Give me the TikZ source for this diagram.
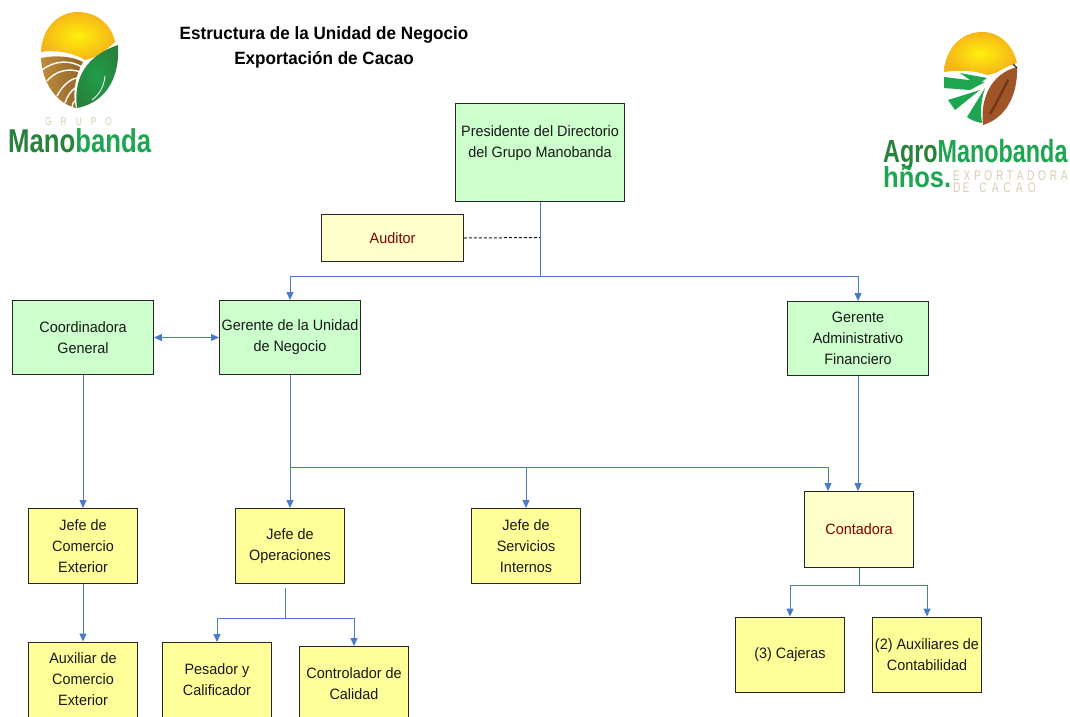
\documentclass[tikz,border=0pt]{standalone}
\usepackage{fontspec}
\setmainfont[FakeStretch=0.96]{Liberation Sans}
\newfontfamily\logofont[FakeStretch=0.78]{Liberation Sans}
\newfontfamily\agrofont[FakeStretch=0.73]{Liberation Sans}
\newfontfamily\hnosfont[FakeStretch=0.88]{Liberation Sans}
\usetikzlibrary{arrows.meta}

\definecolor{boxgreen}{RGB}{204,255,204}
\definecolor{boxyellow}{RGB}{255,255,153}
\definecolor{paleyellow}{RGB}{255,255,204}
\definecolor{linkblue}{RGB}{74,123,201}
\definecolor{darkred}{RGB}{128,0,0}
\definecolor{logogreen}{RGB}{40,130,60}
\definecolor{logolime}{RGB}{30,165,80}
\definecolor{logotan}{RGB}{215,205,175}
\definecolor{sunyellow}{RGB}{255,240,10}
\definecolor{sunamber}{RGB}{245,180,25}
\definecolor{fieldgold}{RGB}{190,140,60}
\definecolor{fielddark}{RGB}{145,100,40}
\definecolor{podbrown}{RGB}{160,85,40}
\definecolor{poddark}{RGB}{115,55,25}

\tikzset{
  orgbox/.style={draw=black!85,line width=0.9pt,align=center,inner sep=0pt,
    font=\fontsize{15}{21}\selectfont,text=black!90},
  greenbox/.style={orgbox,fill=boxgreen,minimum width=141,minimum height=74},
  yellowbox/.style={orgbox,fill=boxyellow,minimum width=109,minimum height=75},
  palebox/.style={orgbox,fill=paleyellow,text=darkred},
  link/.style={draw=linkblue,line width=0.9pt},
  arrowlink/.style={link,-{Triangle[length=8pt,width=7pt]}},
  titletext/.style={align=center,font=\fontsize{17.8}{25}\selectfont\bfseries,text=black},
  sunshade/.style={inner color=sunyellow,outer color=sunamber},
  stripe/.style={white,line width=1.4pt},
  logotext/.style={inner sep=0pt,anchor=base west,text=logogreen},
  logosmall/.style={logotext,font=\agrofont\fontsize{11.5}{11.5}\selectfont,text=logotan,text height=8pt,text depth=0pt},
  exportext/.style={logosmall,font=\agrofont\fontsize{14}{14}\selectfont,text height=9.5pt},
}

\begin{document}
\begin{tikzpicture}[x=1pt,y=-1pt]
\useasboundingbox (0,0) rectangle (1070,716);
\clip (0,0) rectangle (1070,716);

% title
\node[titletext] (title) at (324,47) {Estructura de la Unidad de Negocio\\Exportación de Cacao};

% boxes, top level
\node[greenbox,minimum width=169,minimum height=98] (pres) at (540,152.5) {Presidente del Directorio\\del Grupo Manobanda\\[-6pt]\strut};
\node[palebox,minimum width=142,minimum height=47] (audit) at (392.5,238) {Auditor};
\node[greenbox] (coord) at (83,337.5) {Coordinadora\\General};
\node[greenbox] (gerun) at (290,337.5) {Gerente de la Unidad\\de Negocio};
\node[greenbox] (geraf) at (858,338.5) {Gerente\\Administrativo\\Financiero};

% boxes, middle level
\node[yellowbox] (jcom) at (83,546) {Jefe de\\Comercio\\Exterior};
\node[yellowbox] (jope) at (290,546) {Jefe de\\Operaciones};
\node[yellowbox] (jser) at (526,546) {Jefe de\\Servicios\\Internos};
\node[palebox,minimum width=109,minimum height=76] (cont) at (859,529.5) {Contadora};

% boxes, bottom level
\node[yellowbox] (acom) at (83,679.5) {Auxiliar de\\Comercio\\Exterior};
\node[yellowbox] (pesa) at (217,680) {Pesador y\\Calificador};
\node[yellowbox] (ctrl) at (354,684) {Controlador de\\Calidad};
\node[yellowbox] (caje) at (790,654.5) {(3) Cajeras};
\node[yellowbox] (auxc) at (927,654.5) {(2) Auxiliares de\\Contabilidad};

% junctions
\coordinate (jtop) at (540,276);
\coordinate (jaud) at (540,237.5);
\coordinate (jger) at (290,467);
\coordinate (jjser) at (526,467);
\coordinate (jcont) at (828,467);
\coordinate (jcab) at (859,585);
\coordinate (jopetop) at (285,588);
\coordinate (jopeb) at (285,618);

% connectors
\draw[link] (pres.south) -- (jtop);
\draw[arrowlink] (jtop) -| (gerun.north);
\draw[arrowlink] (jtop) -| (geraf.north);
\draw[black!90,line width=1pt,densely dashed] (audit.east) -- (jaud);
\draw[link,{Triangle[length=8pt,width=7pt]}-{Triangle[length=8pt,width=7pt]}] (coord.east) -- (gerun.west);
\draw[arrowlink] (coord.south) -- (jcom.north);
\draw[arrowlink] (jcom.south) -- (acom.north);
\draw[arrowlink] (gerun.south) -- (jope.north);
\draw[link] (jger) -- (jcont);
\draw[arrowlink] (jjser) -- (jser.north);
\draw[arrowlink] (jcont) -- (jcont |- cont.north);
\draw[arrowlink] (geraf.south) -- (geraf.south |- cont.north);
\draw[link] (cont.south) -- (jcab);
\draw[arrowlink] (jcab) -| (caje.north);
\draw[arrowlink] (jcab) -| (auxc.north);
\draw[link] (jopetop) -- (jopeb);
\draw[arrowlink] (jopeb) -| (pesa.north);
\draw[arrowlink] (jopeb) -| (ctrl.north);

% left logo
\shade[sunshade]
  (41,52) .. controls (42,28) and (58,12) .. (78,12) .. controls (98,12) and (112,26) .. (115,42)
  .. controls (103,53) and (95,58) .. (85,60) .. controls (70,51) and (52,50) .. (41,52) -- cycle;
\shade[left color=fieldgold,right color=fielddark] (41,58) .. controls (55,55) and (72,56) .. (83,62)
  .. controls (76,74) and (72,92) .. (76,108) .. controls (58,104) and (42,84) .. (41,58) -- cycle;
\draw[stripe] (42,70) .. controls (55,60) and (70,60) .. (82,67);
\draw[stripe] (47,81) .. controls (56,70) and (70,68) .. (80,72);
\draw[stripe] (57,96) .. controls (62,86) and (70,79) .. (77,78);
\draw[stripe] (65,103) .. controls (67,96) and (71,91) .. (75,88);
\draw[stripe] (72,107) .. controls (72,104) and (74,101) .. (76,100);
\shade[inner color=logolime!80!logogreen,outer color=logogreen] (118,45) .. controls (120,75) and (108,102) .. (77,108)
  .. controls (74,85) and (80,58) .. (118,45) -- cycle;
\draw[white,line width=0.8pt] (92,100) .. controls (100,94) and (104,86) .. (105,76);
\node[logosmall] (lgrupo) at (45,125.5) {G\hspace{9pt}R\hspace{9pt}U\hspace{9pt}P\hspace{9pt}O};
\node[logotext,font=\logofont\fontsize{33}{33}\selectfont\bfseries,text height=24pt,text depth=0pt] (lmano) at (8,152) {Mano\textcolor{logolime}{banda}};

% right logo
\shade[sunshade]
  (944,72) .. controls (945,50) and (960,32) .. (982,32) .. controls (1002,32) and (1014,48) .. (1017,63)
  .. controls (1005,66) and (998,74) .. (987,75) .. controls (975,70) and (958,70) .. (944,72) -- cycle;
\fill[logolime] (944,77) -- (985,82) -- (970,90) -- (944,88) -- cycle;
\fill[logolime] (960,73) -- (987,78) -- (977,85) -- cycle;
\fill[logolime] (948,100) -- (980,90) -- (955,110) -- cycle;
\fill[logolime] (967,117) -- (985,88) .. controls (981,100) and (980,112) .. (982,123) .. controls (976,122) and (971,120) .. (967,117) -- cycle;
\fill[podbrown] (1017,67) .. controls (1018,95) and (1006,118) .. (983,125)
  .. controls (980,100) and (990,74) .. (1017,67) -- cycle;
\draw[poddark,line width=2.5pt] (1008,80) .. controls (1002,92) and (996,104) .. (990,114);
\draw[black!70!brown,line width=1.4pt] (1013,64) -- (1017,68);
\node[logotext,font=\agrofont\fontsize{32}{32}\selectfont\bfseries,text height=24pt,text depth=0pt] (ragro) at (883,162) {Agro\textcolor{logolime}{Manobanda}};
\node[logotext,font=\hnosfont\fontsize{29}{29}\selectfont\bfseries,text=logolime,text height=8pt,text depth=0pt] (rhnos) at (883,187) {hños.};
\node[exportext] (rexpo) at (953,180) {E\hspace{3.6pt}X\hspace{3.6pt}P\hspace{3.6pt}O\hspace{3.6pt}R\hspace{3.6pt}T\hspace{3.6pt}A\hspace{3.6pt}D\hspace{3.6pt}O\hspace{3.6pt}R\hspace{3.6pt}A};
\node[exportext] (rcaca) at (953,192) {D\hspace{2pt}E\hspace{10pt}C\hspace{5pt}A\hspace{5pt}C\hspace{5pt}A\hspace{5pt}O};
\end{tikzpicture}
\end{document}
